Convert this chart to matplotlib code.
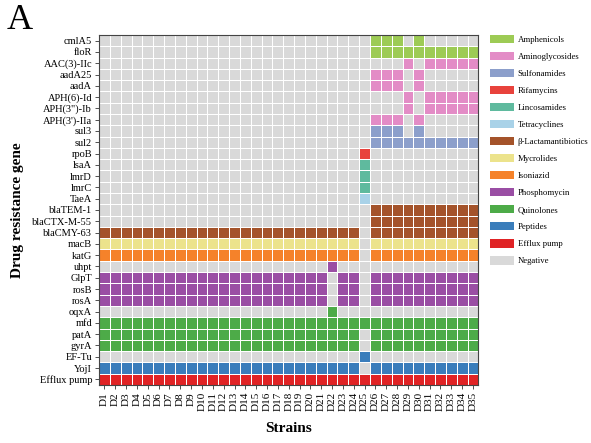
import matplotlib
matplotlib.use("Agg")
import matplotlib.pyplot as plt
import numpy as np
from matplotlib.colors import ListedColormap
from matplotlib.patches import Patch

plt.rcParams['font.family'] = ['Liberation Serif', 'DejaVu Serif']

# ==================== Data ====================
strains = [f"D{i}" for i in range(1, 36)]

genes = ["cmlA5", "floR", "AAC(3)-IIc", "aadA25", "aadA", "APH(6)-Id",
         "APH(3\")-Ib", "APH(3')-IIa", "sul3", "sul2", "rpoB", "lsaA",
         "lmrD", "lmrC", "TaeA", "blaTEM-1", "blaCTX-M-55", "blaCMY-63",
         "macB", "katG", "uhpt", "GlpT", "rosB", "rosA", "oqxA", "mfd",
         "patA", "gyrA", "EF-Tu", "YojI", "Efflux pump"]

classes = ["Amphenicols", "Aminoglycosides", "Sulfonamides", "Rifamycins",
           "Lincosamides", "Tetracyclines", "\u03b2-Lactamantibiotics",
           "Mycrolides", "Isoniazid", "Phosphomycin", "Quinolones",
           "Peptides", "Efflux pump", "Negative"]

class_colors = ["#9dcb55", "#e38cc6", "#8c9fcb", "#e8423c", "#5fba9e",
                "#a9d2e8", "#a4532a", "#ece38c", "#f5822a", "#9a4ea4",
                "#4dab48", "#3a7dbb", "#e02325", "#d9d9d9"]

# drug class of each gene (index into classes)
gene_class = [0, 0, 1, 1, 1, 1, 1, 1, 2, 2, 3, 4, 4, 4, 5, 6, 6, 6,
              7, 8, 9, 9, 9, 9, 10, 10, 10, 10, 11, 11, 12]

# presence (1) / absence (0) per strain D1..D35
presence = [
    "0000000000000000000000000" + "1110100000",  # cmlA5
    "0000000000000000000000000" + "1111111111",  # floR
    "0000000000000000000000000" + "0001011111",  # AAC(3)-IIc
    "0000000000000000000000000" + "1110100000",  # aadA25
    "0000000000000000000000000" + "1110100000",  # aadA
    "0000000000000000000000000" + "0001011111",  # APH(6)-Id
    "0000000000000000000000000" + "0001011111",  # APH(3")-Ib
    "0000000000000000000000000" + "1110100000",  # APH(3')-IIa
    "0000000000000000000000000" + "1110100000",  # sul3
    "0000000000000000000000000" + "1111111111",  # sul2
    "000000000000000000000000" + "1" + "0000000000",  # rpoB
    "000000000000000000000000" + "1" + "0000000000",  # lsaA
    "000000000000000000000000" + "1" + "0000000000",  # lmrD
    "000000000000000000000000" + "1" + "0000000000",  # lmrC
    "000000000000000000000000" + "1" + "0000000000",  # TaeA
    "0000000000000000000000000" + "1111111111",  # blaTEM-1
    "0000000000000000000000000" + "1111111111",  # blaCTX-M-55
    "111111111111111111111111" + "0" + "1111111111",  # blaCMY-63
    "111111111111111111111111" + "0" + "1111111111",  # macB
    "111111111111111111111111" + "0" + "1111111111",  # katG
    "000000000000000000000" + "1" + "0000000000000",  # uhpt
    "111111111111111111111" + "0110" + "1111111111",  # GlpT
    "111111111111111111111" + "0110" + "1111111111",  # rosB
    "111111111111111111111" + "0110" + "1111111111",  # rosA
    "000000000000000000000" + "1" + "0000000000000",  # oqxA
    "11111111111111111111111111111111111",             # mfd
    "111111111111111111111111" + "0" + "1111111111",  # patA
    "111111111111111111111111" + "0" + "1111111111",  # gyrA
    "000000000000000000000000" + "1" + "0000000000",  # EF-Tu
    "111111111111111111111111" + "0" + "1111111111",  # YojI
    "11111111111111111111111111111111111",             # Efflux pump
]


def build_matrix():
    """Convert presence strings to a matrix of class indices"""
    neg = len(classes) - 1
    mat = np.full((len(genes), len(strains)), neg)
    for i, row in enumerate(presence):
        for j, ch in enumerate(row):
            if ch == "1":
                mat[i, j] = gene_class[i]
    return mat


def main():
    mat = build_matrix()
    cmap = ListedColormap(class_colors)

    fig = plt.figure(figsize=(5.91, 4.43), dpi=100)
    ax = fig.add_axes([0.1675, 0.131, 0.642, 0.790])

    ax.pcolormesh(mat, cmap=cmap, vmin=-0.5, vmax=len(classes) - 0.5,
                  edgecolors="white", linewidth=0.45)
    ax.set_xlim(0, len(strains))
    ax.set_ylim(len(genes), 0)

    ax.set_xticks(np.arange(len(strains)) + 0.5)
    ax.set_xticklabels(strains, rotation=90, fontsize=8)
    ax.set_yticks(np.arange(len(genes)) + 0.5)
    ax.set_yticklabels(genes, fontsize=7.5)
    ax.tick_params(length=3, width=0.6, color="#333333", pad=2)

    for sp in ax.spines.values():
        sp.set_color("#444444")
        sp.set_linewidth(0.8)

    ax.set_xlabel("Strains", fontsize=11, fontweight="bold", labelpad=8)
    ax.set_ylabel("Drug resistance gene", fontsize=11, fontweight="bold",
                  labelpad=6)

    handles = [Patch(facecolor=c, edgecolor="none", label=l)
               for c, l in zip(class_colors, classes)]
    fig.legend(handles=handles, loc="upper left",
               bbox_to_anchor=(0.824, 0.93), frameon=False, fontsize=6.3,
               handlelength=2.7, handleheight=1.1, labelspacing=0.9,
               handletextpad=0.4, borderaxespad=0)

    fig.text(0.012, 0.99, "A", fontsize=26, va="top", ha="left")

    fig.savefig("out.png", dpi=100, facecolor="white")


if __name__ == "__main__":
    main()
